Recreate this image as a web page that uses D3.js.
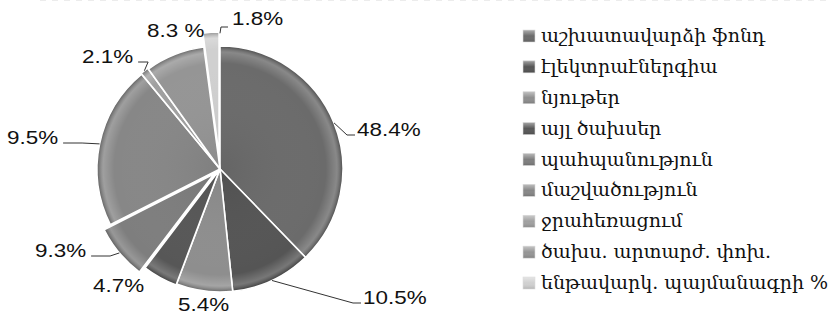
<!DOCTYPE html>
<html>
<head>
<meta charset="utf-8">
<script src="https://cdn.jsdelivr.net/npm/d3@7/dist/d3.min.js"></script>
<style>
body { margin:0; background:#fff; }
svg { display:block; }
.pct { font-family:"Liberation Sans", Arial, sans-serif; font-size:19px; fill:#111; }
.leg { font-family:"DejaVu Serif", serif; font-size:19px; fill:#111; }
</style>
</head>
<body>
<svg id="chart" width="829" height="315"></svg>
<script>
// categories (legend order = slice order, clockwise from 12 o'clock)
var categories = ["աշխատավարձի ֆոնդ", "էլեկտրաէներգիա", "նյութեր", "այլ ծախսեր",
    "պահպանություն", "մաշվածություն", "ջրահեռացում", "ծախս. արտարժ. փոխ.",
    "ենթավարկ. պայմանագրի %"];
// slice sizes as drawn in the picture
var shares = [37.8, 10.6, 7.4, 4.6, 7.2, 21.5, 1.1, 7.8, 2.1];
// data labels as printed
var pctLabels = ["48.4%", "10.5%", "5.4%", "4.7%", "9.3%", "9.5%", "2.1%", "8.3 %", "1.8%"];

var colors = ["#6b6b6b", "#555555", "#8e8e8e", "#575757", "#7e7e7e", "#878787", "#a0a0a0", "#959595", "#d0d0d0"];
var explode = [0, 0, 0, 1, 8, 0, 1, 0, 14];
// label placement: x, baseline y, leader style
var labelLayout = [[357,136,"r"],[363,304,"r"],[178,311,"none"],[93,292,"none"],[35,257,"l"],
    [7,144,"l"],[82,63,"l2"],[147,37,"none"],[232,25,"up"]];

var cx = 220, cy = 169, R = 123;
var svg = d3.select("#chart");

svg.append("line").attr("x1",40).attr("x2",829).attr("y1",0.5).attr("y2",0.5)
    .attr("stroke","#ececec").attr("stroke-dasharray","6,6");

var defs = svg.append("defs");
var rg = defs.append("radialGradient").attr("id","shade").attr("gradientUnits","userSpaceOnUse")
    .attr("cx",0).attr("cy",0).attr("r",R);
rg.append("stop").attr("offset","0").attr("stop-color","#000").attr("stop-opacity",0.06);
rg.append("stop").attr("offset","0.86").attr("stop-color","#fff").attr("stop-opacity",0.0);
rg.append("stop").attr("offset","0.95").attr("stop-color","#fff").attr("stop-opacity",0.2);
rg.append("stop").attr("offset","1").attr("stop-color","#000").attr("stop-opacity",0.3);

var lg = defs.append("linearGradient").attr("id","box").attr("x1",0).attr("y1",0).attr("x2",0).attr("y2",1);
lg.append("stop").attr("offset","0").attr("stop-color","#fff").attr("stop-opacity",0.45);
lg.append("stop").attr("offset","0.5").attr("stop-color","#fff").attr("stop-opacity",0.0);
lg.append("stop").attr("offset","1").attr("stop-color","#000").attr("stop-opacity",0.15);

var pie = d3.pie().sort(null).value(function(d){ return d; });
var arcs = pie(shares);
var arc = d3.arc().innerRadius(0).outerRadius(R);

function polar(a, r) {
    return [cx + r*Math.sin(a), cy - r*Math.cos(a)];
}

var g = svg.append("g");
arcs.forEach(function(d, i) {
    var mid = (d.startAngle + d.endAngle)/2;
    var off = polar(mid, explode[i]);
    var sg = g.append("g").attr("transform","translate("+off[0]+","+off[1]+")");
    sg.append("path").attr("d", arc(d)).attr("fill", colors[i]);
    sg.append("path").attr("d", arc(d)).attr("fill", "url(#shade)")
        .attr("stroke","#fff").attr("stroke-width",1.6).attr("stroke-linejoin","round");
});

// labels and leader lines (labels are drawn a bit wide, like the original)
var line = d3.line();
arcs.forEach(function(d, i) {
    var L = labelLayout[i];
    var t = svg.append("text").attr("class","pct").attr("x",L[0]).attr("y",L[1]).text(pctLabels[i]);
    var w = t.node().getComputedTextLength() * 1.18;
    t.attr("textLength", w).attr("lengthAdjust","spacingAndGlyphs");
    if (L[2] == "none") return;
    var mid = (d.startAngle + d.endAngle)/2;
    var p0 = polar(mid, R + explode[i]);
    var pts;
    if (L[2] == "r") pts = [p0, [L[0]-10, L[1]-1], [L[0]-2, L[1]-1]];
    else if (L[2] == "l") pts = [p0, [L[0]+w+24, L[1]-1], [L[0]+w+5, L[1]-1]];
    else if (L[2] == "l2") pts = [p0, [L[0]+w+15, L[1]-1], [L[0]+w+5, L[1]-1]];
    else pts = [[p0[0]+9, p0[1]+1], [p0[0]+10, L[1]+2], [L[0]-4, L[1]+2]];
    svg.append("path").attr("d", line(pts)).attr("fill","none")
        .attr("stroke","#333").attr("stroke-width",1);
});

// legend
var ly = d3.scalePoint().domain(d3.range(categories.length)).range([36, 283]);
var leg = svg.append("g");
categories.forEach(function(c, i) {
    var y = ly(i);
    leg.append("rect").attr("x",523).attr("y",y-6).attr("width",12).attr("height",12).attr("fill",colors[i]);
    leg.append("rect").attr("x",523).attr("y",y-6).attr("width",12).attr("height",12).attr("fill","url(#box)")
        .attr("stroke","#ddd").attr("stroke-width",0.6);
    leg.append("text").attr("class","leg").attr("x",541).attr("y",y+6).text(c);
});
</script>
</body>
</html>
